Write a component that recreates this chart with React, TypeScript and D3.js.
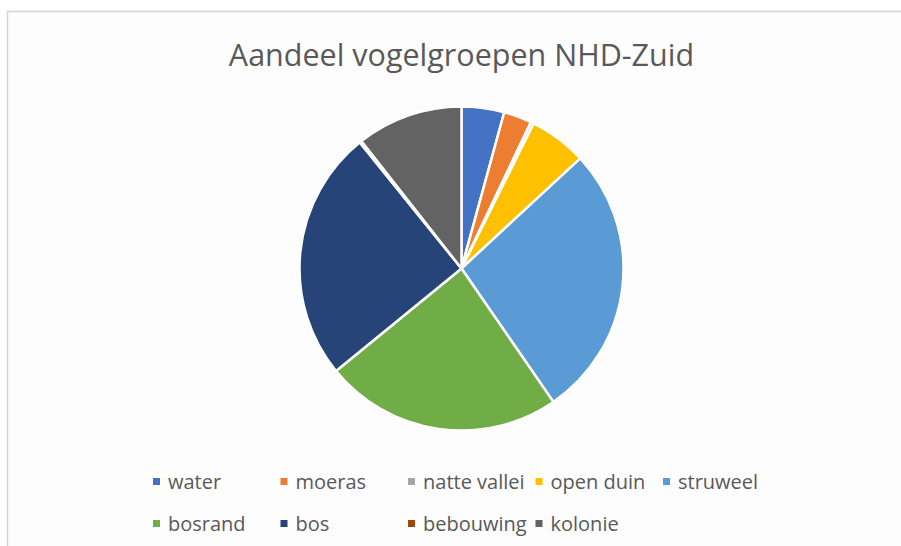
import React from 'react';
import * as d3 from 'd3';

const categories = ['water', 'moeras', 'natte vallei', 'open duin', 'struweel', 'bosrand', 'bos', 'bebouwing', 'kolonie'];
const shares = [4.25, 2.8, 0.3, 5.75, 27.3, 23.7, 25.1, 0.2, 10.6];
const colors = ['#4472C4', '#ED7D31', '#A5A5A5', '#FFC000', '#5B9BD5', '#70AD47', '#264478', '#9E480E', '#636363'];

const title = 'Aandeel vogelgroepen NHD-Zuid';

const width = 901;
const height = 546;
const cx = 461.5;
const cy = 268.5;
const radius = 162;

const App = () => {
  const pie = d3.pie<number>().sort(null).value(d => d);
  const arcs = pie(shares);
  const arc = d3.arc<d3.PieArcDatum<number>>().innerRadius(0).outerRadius(radius);

  // legend: 5 columns, 2 rows
  const colX = d3.scaleLinear().domain([0, 1]).range([153, 280.5]);
  const rowY = d3.scaleLinear().domain([0, 1]).range([481.5, 523.5]);

  return (
    <svg width={width} height={height} style={{ position: 'absolute', left: 0, top: 0 }}>
      <rect x={0} y={0} width={width} height={height} fill="#ffffff" />
      <rect x={7.5} y={11.5} width={width} height={height} fill="#fdfdfd" stroke="#d4d4d4" strokeWidth={1.5} />
      <text
        x={cx}
        y={65.5}
        textAnchor="middle"
        fontFamily="'Open Sans', sans-serif"
        fontSize={30.5}
        fill="#595959"
      >
        {title}
      </text>
      <g transform={`translate(${cx},${cy})`}>
        {arcs.map((a, i) => (
          <path key={categories[i]} d={arc(a) || ''} fill={colors[i]} stroke="#ffffff" strokeWidth={2.5} strokeLinejoin="round" />
        ))}
      </g>
      <g fontFamily="'Open Sans', sans-serif" fontSize={20} fill="#595959">
        {categories.map((c, i) => {
          const col = i % 5;
          const row = Math.floor(i / 5);
          const x = colX(col);
          const y = rowY(row);
          return (
            <g key={c}>
              <rect x={x} y={y - 3.5} width={7} height={7} fill={colors[i]} />
              <text x={x + 15} y={y} dominantBaseline="central">{c}</text>
            </g>
          );
        })}
      </g>
    </svg>
  );
};

export default App;
